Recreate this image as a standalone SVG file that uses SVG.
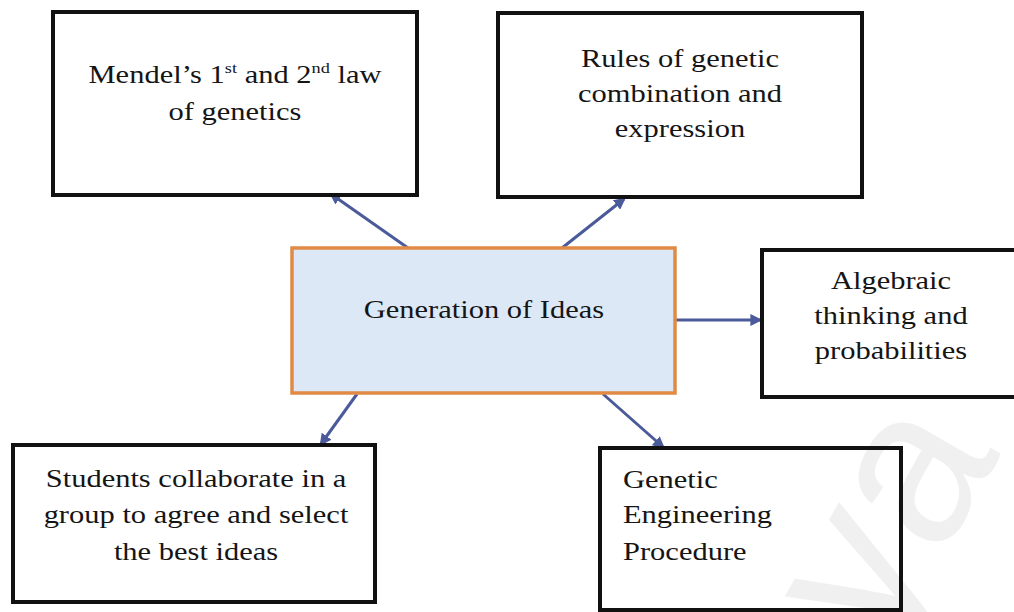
<svg xmlns="http://www.w3.org/2000/svg" width="1014" height="612" viewBox="0 0 1014 612">
  <style>
    .box { fill: #ffffff; stroke: #111111; stroke-width: 4; }
    .hub { fill: #dce8f6; stroke: #e08a45; stroke-width: 3.5; }
    .lbl { font-family: "Liberation Serif", "Times New Roman", serif; font-size: 25px; fill: #151515; }
    .link { stroke: #4b5a9a; stroke-width: 3; fill: none; marker-end: url(#head); }
    .mark { font-family: "Liberation Sans", Arial, sans-serif; font-size: 220px; fill: #000000; fill-opacity: 0.06; }
  </style>
  <defs>
    <marker id="head" viewBox="0 0 10 10" refX="8" refY="5" markerWidth="4" markerHeight="4" orient="auto" markerUnits="strokeWidth">
      <path d="M0,0 L10,5 L0,10 Z" fill="#4b5a9a"/>
    </marker>
  </defs>

  <rect width="1014" height="612" fill="#ffffff"/>

  <g id="connectors">
    <line class="link" x1="408" y1="248" x2="331" y2="194"/>
    <line class="link" x1="562" y1="248" x2="624" y2="199"/>
    <line class="link" x1="676" y1="320" x2="760" y2="320"/>
    <line class="link" x1="357" y1="394" x2="321" y2="444"/>
    <line class="link" x1="603" y1="394" x2="663" y2="447"/>
  </g>

  <g id="mendel">
    <rect class="box" x="53" y="12" width="364" height="183"/>
    <text class="lbl" text-anchor="middle" transform="translate(235,83) scale(1.22,1)">Mendel’s 1<tspan font-size="15" dy="-10">st</tspan><tspan dy="10"> and 2</tspan><tspan font-size="15" dy="-10">nd</tspan><tspan dy="10"> law</tspan></text>
    <text class="lbl" text-anchor="middle" transform="translate(235,120) scale(1.22,1)">of genetics</text>
  </g>

  <g id="rules">
    <rect class="box" x="498" y="13" width="364" height="184"/>
    <text class="lbl" text-anchor="middle" transform="translate(680,67) scale(1.22,1)">Rules of genetic</text>
    <text class="lbl" text-anchor="middle" transform="translate(680,102) scale(1.22,1)">combination and</text>
    <text class="lbl" text-anchor="middle" transform="translate(680,137) scale(1.22,1)">expression</text>
  </g>

  <g id="ideas">
    <rect class="hub" x="292" y="248" width="383" height="145"/>
    <text class="lbl" text-anchor="middle" transform="translate(484,318) scale(1.22,1)">Generation of Ideas</text>
  </g>

  <g id="algebra">
    <rect class="box" x="762" y="250" width="260" height="147"/>
    <text class="lbl" text-anchor="middle" transform="translate(891,289) scale(1.22,1)">Algebraic</text>
    <text class="lbl" text-anchor="middle" transform="translate(891,324) scale(1.22,1)">thinking and</text>
    <text class="lbl" text-anchor="middle" transform="translate(891,359) scale(1.22,1)">probabilities</text>
  </g>

  <g id="students">
    <rect class="box" x="13" y="445" width="362" height="157"/>
    <text class="lbl" text-anchor="middle" transform="translate(196,487) scale(1.22,1)">Students collaborate in a</text>
    <text class="lbl" text-anchor="middle" transform="translate(196,523) scale(1.22,1)">group to agree and select</text>
    <text class="lbl" text-anchor="middle" transform="translate(196,560) scale(1.22,1)">the best ideas</text>
  </g>

  <g id="engineering">
    <rect class="box" x="600" y="448" width="301" height="162"/>
    <text class="lbl" transform="translate(623,488) scale(1.22,1)">Genetic</text>
    <text class="lbl" transform="translate(623,523) scale(1.22,1)">Engineering</text>
    <text class="lbl" transform="translate(623,560) scale(1.22,1)">Procedure</text>
  </g>

  <!-- faint page watermark laid over the lower right corner -->
  <text class="mark" transform="translate(885,655) rotate(-60)">ya</text>
</svg>
